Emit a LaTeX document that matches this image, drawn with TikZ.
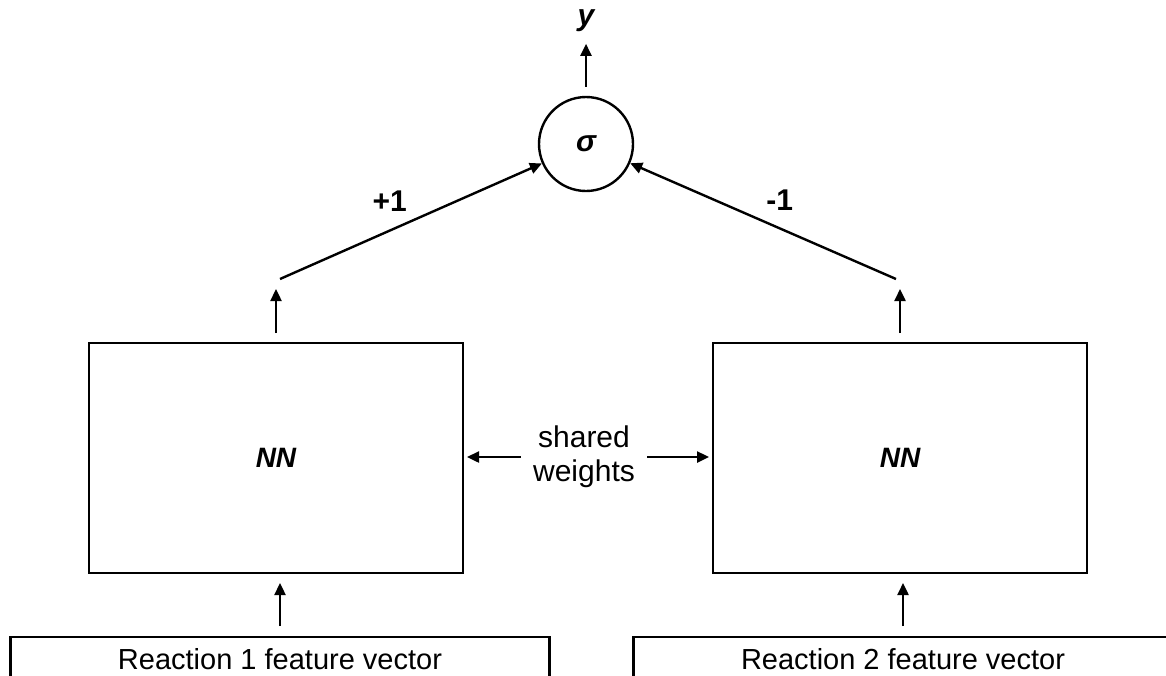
\documentclass[tikz,border=0pt]{standalone}
\usepackage{fontspec}
\setmainfont{Liberation Sans}
\usetikzlibrary{positioning,arrows.meta}

\begin{document}
\begin{tikzpicture}[x=0.5pt, y=-0.5pt, node distance = 0pt,
NetStyle/.style={draw, line width=1.2pt, minimum width=187pt, minimum height=115pt,
                outer sep=0pt, font=\fontsize{14}{16}\selectfont\bfseries\itshape},
InputStyle/.style={draw, line width=1.2pt, anchor=north, minimum width=269.5pt,
                inner ysep=5.5pt, text depth=30pt, outer sep=0pt,
                font=\fontsize{14.5}{17}\selectfont},
SigmaStyle/.style={draw, circle, line width=1.2pt, minimum size=47pt, inner sep=0pt,
                font=\fontsize{15}{17}\selectfont\bfseries\itshape},
WeightStyle/.style={inner sep=0pt, font=\fontsize{15}{17}\selectfont\bfseries},
ArrowStyle/.style={-{Triangle[length=6pt, width=5.5pt]}, line width=1.2pt},]
\clip (0,0) rectangle (1166,675);
% output unit
\node [SigmaStyle] (sig) at (586,144) {σ};
\node [inner sep=0pt, font=\fontsize{15}{17}\selectfont\bfseries\itshape,
       above=32pt of sig] (yout) {y};
% the two networks
\node [NetStyle] (nn1) at (276,458) {NN};
\node [NetStyle, right=125pt of nn1] (nn2) {NN};
\node [align=center, inner xsep=6pt, inner ysep=0pt,
       font=\fontsize{15}{17}\selectfont] (shared) at (584,457) {shared\\weights};
% inputs
\node [InputStyle] (in1) at (280,637) {Reaction 1 feature vector};
\node [InputStyle] (in2) at (903,637) {Reaction 2 feature vector};
\coordinate [above=27pt of nn1.north] (top1);
\coordinate [above=27pt of nn2.north] (top2);
\coordinate [above right=5pt and 2pt of top1] (d1);
\coordinate [above left=5pt and 2pt of top2] (d2);

\draw [ArrowStyle, shorten <=4.5pt, shorten >=6pt] (sig.north) -- (sig.north |- yout.south);
\draw [ArrowStyle, shorten <=5.5pt, shorten >=5pt] (in1.north) -- (in1.north |- nn1.south);
\draw [ArrowStyle, shorten <=5.5pt, shorten >=5pt] (in2.north) -- (in2.north |- nn2.south);
\draw [ArrowStyle, shorten <=5pt] (nn1.north) -- (top1);
\draw [ArrowStyle, shorten <=5pt] (nn2.north) -- (top2);
\draw [ArrowStyle, shorten >=2pt] (shared.west) -- (shared.west -| nn1.east);
\draw [ArrowStyle, shorten >=2pt] (shared.east) -- (shared.east -| nn2.west);
\draw [ArrowStyle] (d1) -- (sig)
      node [WeightStyle, midway, anchor=south east, xshift=-1.5pt, yshift=4.5pt] {+1};
\draw [ArrowStyle] (d2) -- (sig)
      node [WeightStyle, midway, anchor=south west, xshift=1pt, yshift=4.5pt] {-1};
\end{tikzpicture}
\end{document}
